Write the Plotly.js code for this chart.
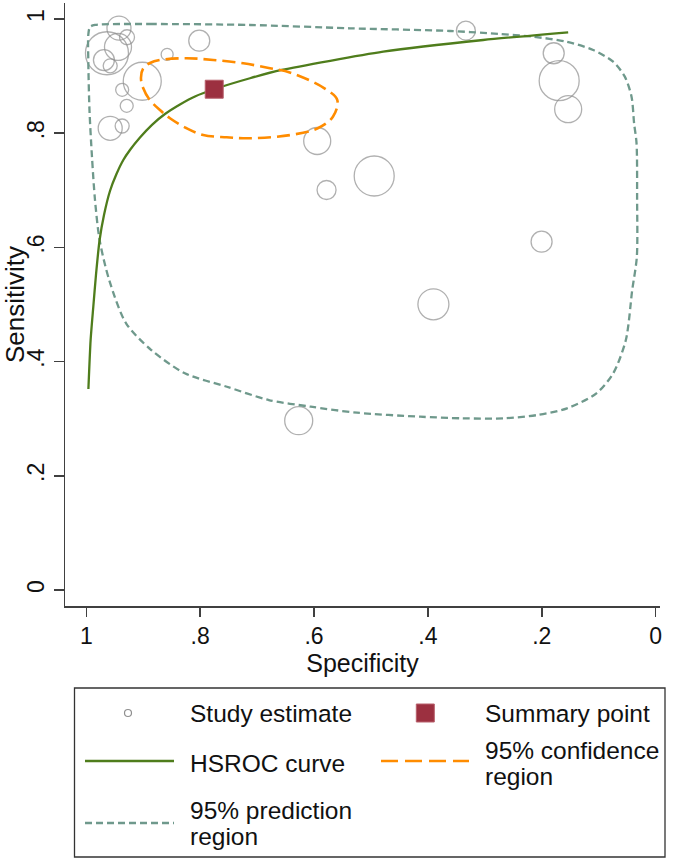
<!DOCTYPE html>
<html>
<head>
<meta charset="utf-8">
<script src="https://cdn.plot.ly/plotly-3.0.1.min.js"></script>
<style>html,body{margin:0;padding:0;background:#fff;}#chart{width:675px;height:861px;}</style>
</head>
<body>
<div id="chart"></div>
<script>
// ---- Data ----
var studySpec = [0.9426, 0.9285, 0.9637, 0.9443, 0.969, 0.958, 0.858, 0.8016, 0.9017, 0.937, 0.929, 0.958, 0.937,
                 0.3333, 0.179, 0.1694, 0.1536, 0.5944, 0.4943, 0.578, 0.2003, 0.3903, 0.6269];
var studySens = [0.984, 0.968, 0.940, 0.951, 0.928, 0.918, 0.938, 0.962, 0.891, 0.876, 0.848, 0.8086, 0.8126,
                 0.9795, 0.940, 0.892, 0.842, 0.7863, 0.725, 0.7005, 0.61, 0.5003, 0.2965];
var studyWeight = [24, 15, 43, 27, 21, 14, 12, 21, 38, 13, 13, 24, 14,
                   19, 21, 40, 27, 27, 40, 19, 21, 31, 28];

var summarySpec = [0.7753];
var summarySens = [0.877];

var hsrocSpec = [0.9963, 0.9924, 0.9877, 0.9830, 0.9766, 0.9689, 0.9584, 0.9470, 0.9350, 0.9233, 0.9057, 0.8846,
                 0.8618, 0.8355, 0.8091, 0.7758, 0.7125, 0.6569, 0.4785, 0.3029, 0.1536];
var hsrocSens = [0.3520, 0.4378, 0.4961, 0.5517, 0.6130, 0.6567, 0.6988, 0.7285, 0.7531, 0.7706, 0.7925, 0.8147,
                 0.8336, 0.8503, 0.8643, 0.8769, 0.8962, 0.9107, 0.9427, 0.9632, 0.9767];

var confSpec = [0.9040, 0.8999, 0.8894, 0.8706, 0.8530, 0.8237, 0.7946, 0.7535, 0.7125, 0.6413, 0.5935, 0.5668, 0.5591,
                0.5817, 0.6413, 0.6774, 0.7243, 0.7770, 0.8237, 0.8706, 0.8881, 0.8999, 0.9040];
var confSens = [0.8967, 0.8786, 0.8594, 0.8406, 0.8261, 0.8086, 0.7968, 0.7928, 0.7911, 0.7968, 0.8086, 0.8289, 0.8581,
                0.8786, 0.9060, 0.9137, 0.9224, 0.9282, 0.9312, 0.9282, 0.9229, 0.9137, 0.8967];

var predSpec = [0.9847, 0.8881, 0.7125, 0.5370, 0.3614, 0.2736, 0.2156, 0.1564, 0.1097, 0.0746, 0.0541, 0.0423, 0.0378,
                0.0335, 0.0325, 0.0330, 0.0411, 0.0523, 0.0745, 0.1040, 0.1556, 0.2072, 0.2662, 0.3399, 0.4137,
                0.5245, 0.6056, 0.6794, 0.7531, 0.8269, 0.8859, 0.9301, 0.9598, 0.9766, 0.9847, 0.9900, 0.9944,
                0.9965, 0.9965, 0.9935, 0.9847];
var predSens = [0.9895, 0.9912, 0.9895, 0.9837, 0.9790, 0.9737, 0.9690, 0.9602, 0.9457, 0.9252, 0.8990, 0.8639, 0.8173,
                0.7823, 0.6830, 0.5832, 0.5254, 0.4378, 0.3795, 0.3445, 0.3182, 0.3065, 0.3007, 0.3007, 0.3035,
                0.3105, 0.3210, 0.3327, 0.3560, 0.3795, 0.4203, 0.4671, 0.5429, 0.6130, 0.6830, 0.7583, 0.8406,
                0.9282, 0.9720, 0.9860, 0.9895];

var xTickVals = [1, 0.8, 0.6, 0.4, 0.2, 0];
var xTickText = ['1', '.8', '.6', '.4', '.2', '0'];
var yTickVals = [0, 0.2, 0.4, 0.6, 0.8, 1];
var yTickText = ['0', '.2', '.4', '.6', '.8', '1'];

var legendLabels = ['Study estimate', 'Summary point', 'HSROC curve', '95% confidence', 'region', '95% prediction', 'region'];

// ---- Styles ----
var FONT = 'Liberation Sans, Arial, Helvetica, sans-serif';
var W = 675, H = 861;
var cGray = '#8f8f8f', cGreen = '#4f7d1c', cRed = '#9c3040', cOrange = '#ff8c00', cTeal = '#6f998c', cAxis = '#404040';

function px(x) { return x / W; }
function py(y) { return 1 - y / H; }

var traces = [
  { x: studySpec, y: studySens, type: 'scatter', mode: 'markers', hoverinfo: 'skip',
    marker: { symbol: 'circle-open', size: studyWeight, sizemode: 'diameter', color: cGray, line: { color: cGray, width: 1.3 } } },
  { x: predSpec, y: predSens, type: 'scatter', mode: 'lines', line: { color: cTeal, width: 2.3, dash: '7px,4px', shape: 'spline', smoothing: 0.8 } },
  { x: hsrocSpec, y: hsrocSens, type: 'scatter', mode: 'lines', line: { color: cGreen, width: 2.3, shape: 'spline', smoothing: 0.6 } },
  { x: confSpec, y: confSens, type: 'scatter', mode: 'lines', line: { color: cOrange, width: 2.6, dash: '13px,6px', shape: 'spline', smoothing: 1 } },
  { x: summarySpec, y: summarySens, type: 'scatter', mode: 'markers',
    marker: { symbol: 'square', size: 18, color: cRed, line: { color: '#b8606c', width: 1 } } }
];

// legend (drawn by hand)
var shapes = [
  { type: 'rect', xref: 'paper', yref: 'paper', x0: px(74.5), x1: px(665), y0: py(857), y1: py(688), line: { color: '#333', width: 1.3 }, fillcolor: 'rgba(0,0,0,0)' },
  { type: 'circle', xref: 'paper', yref: 'paper', x0: px(124.5), x1: px(131.5), y0: py(716.5), y1: py(709.5), line: { color: cGray, width: 1.2 } },
  { type: 'rect', xref: 'paper', yref: 'paper', x0: px(416.3), x1: px(434.3), y0: py(722), y1: py(704), line: { color: '#b8606c', width: 1 }, fillcolor: cRed },
  { type: 'line', xref: 'paper', yref: 'paper', x0: px(85), x1: px(174), y0: py(761), y1: py(761), line: { color: cGreen, width: 2.3 } },
  { type: 'line', xref: 'paper', yref: 'paper', x0: px(381), x1: px(469), y0: py(761), y1: py(761), line: { color: cOrange, width: 2.6, dash: '17px,7px' } },
  { type: 'line', xref: 'paper', yref: 'paper', x0: px(85), x1: px(174), y0: py(823), y1: py(823), line: { color: cTeal, width: 2.3, dash: '7px,4px' } }
];

var legPos = [[188, 713], [483, 713], [188, 763], [483, 750], [483, 776], [188, 810], [188, 836]];
var annotations = legendLabels.map(function (t, i) {
  return { text: t, xref: 'paper', yref: 'paper', x: px(legPos[i][0]), y: py(legPos[i][1]), xanchor: 'left', yanchor: 'middle',
           showarrow: false, align: 'left', font: { family: FONT, size: 24.5, color: '#111' } };
});

var layout = {
  width: W, height: H,
  margin: { l: 0, r: 0, t: 0, b: 0 },
  paper_bgcolor: '#fff', plot_bgcolor: '#fff',
  showlegend: false,
  font: { family: FONT, color: '#111' },
  xaxis: {
    domain: [65 / W, 660 / W],
    range: [1.0374, -0.0077],
    showgrid: false, zeroline: false,
    showline: true, linecolor: cAxis, linewidth: 1.5,
    ticks: 'outside', ticklen: 9, tickwidth: 1.5, tickcolor: cAxis,
    tickvals: xTickVals, ticktext: xTickText,
    tickfont: { family: FONT, size: 23, color: '#111' },
    title: { text: 'Specificity', font: { family: FONT, size: 25, color: '#111' }, standoff: 6 }
  },
  yaxis: {
    domain: [1 - 606 / H, 1 - 3 / H],
    range: [-0.028, 1.028],
    showgrid: false, zeroline: false,
    showline: true, linecolor: cAxis, linewidth: 1.5,
    ticks: 'outside', ticklen: 10, tickwidth: 1.5, tickcolor: cAxis,
    tickvals: yTickVals, ticktext: yTickText, tickangle: -90,
    tickfont: { family: FONT, size: 23, color: '#111' },
    title: { text: 'Sensitivity', font: { family: FONT, size: 26, color: '#111' }, standoff: 4 }
  },
  shapes: shapes,
  annotations: annotations
};

Plotly.newPlot('chart', traces, layout, { staticPlot: true, displayModeBar: false });
</script>
</body>
</html>
